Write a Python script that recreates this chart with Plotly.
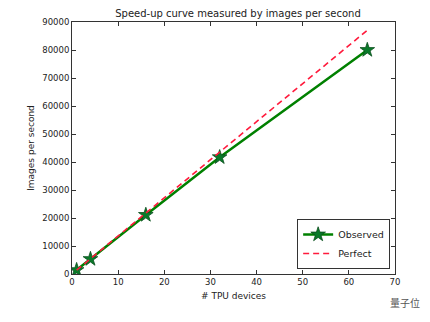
import plotly.graph_objects as go

# Dados
devices = [1, 4, 16, 32, 64]
observed = [1400, 5350, 21100, 41700, 80000]
perfect = [1360, 5440, 21760, 43520, 87040]

x_ticks = [0, 10, 20, 30, 40, 50, 60, 70]
y_ticks = [0, 10000, 20000, 30000, 40000, 50000, 60000, 70000, 80000, 90000]
y_labels = [str(v) for v in y_ticks]

fig = go.Figure()

# Curva observada
fig.add_trace(go.Scatter(
    x=devices, y=observed,
    mode="lines+markers",
    line=dict(color="#008000", width=2.5),
    marker=dict(symbol="star", size=11, color="#0a7a2a",
                line=dict(color="#0b4f1e", width=0.8)),
    name="Observed"
))

# Curva perfeita
fig.add_trace(go.Scatter(
    x=devices, y=perfect,
    mode="lines",
    line=dict(color="#ff1a3c", width=1.6, dash="6px,4px"),
    name="Perfect"
))

axis_common = dict(
    showline=True, linecolor="#333", linewidth=1, mirror="ticks",
    ticks="inside", ticklen=4, tickcolor="#333",
    showgrid=False, zeroline=False, automargin=False,
    tickfont=dict(size=8.5, color="#222"),
)

# A página tem margem de 8px, então a figura é um pouco menor que a janela
fig.update_layout(
    width=422, height=314,
    paper_bgcolor="white", plot_bgcolor="white",
    font=dict(family="DejaVu Sans", color="#222"),
    title=dict(text="Speed-up curve measured by images per second",
               x=0.545, xanchor="center", y=0.981, yanchor="middle",
               font=dict(size=10)),
    margin=dict(l=64, r=35, t=14, b=48),
    xaxis=dict(range=[0, 70], tickvals=x_ticks,
               title=dict(text="# TPU devices", font=dict(size=9), standoff=6),
               **axis_common),
    yaxis=dict(range=[0, 90000], tickvals=y_ticks, ticktext=y_labels,
               title=dict(text="Images per second", font=dict(size=9), standoff=6),
               **axis_common),
    legend=dict(x=0.985, y=0.02, xanchor="right", yanchor="bottom",
                bordercolor="#333", borderwidth=1, bgcolor="white",
                font=dict(size=9.5), tracegroupgap=0),
    showlegend=True,
)

# Marca d'água
fig.add_annotation(
    text="量子位", xref="paper", yref="paper", x=1.085, y=-0.115,
    xanchor="right", yanchor="middle", showarrow=False,
    font=dict(family="Noto Sans CJK SC", size=10, color="#555")
)

fig.write_html("out.html")
